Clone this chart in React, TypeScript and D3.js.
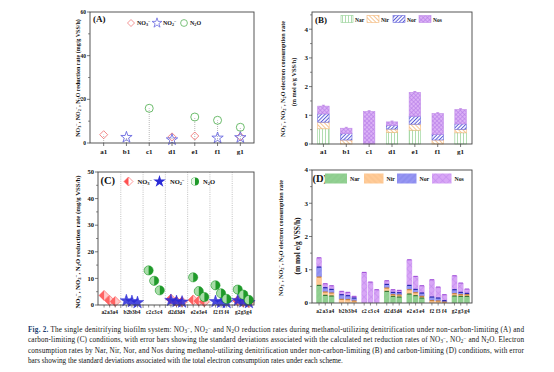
import React from 'react';
import * as d3 from 'd3';

// ---- data ----
const groups1 = ['a1', 'b1', 'c1', 'd1', 'e1', 'f1', 'g1'];
const no3A = [3.8, null, null, 2.8, 3.2, null, 2.9];
const no2A = [null, 2.6, null, 1.5, null, 2.3, 2.5];
const n2oA = [null, null, 15.9, null, 11.9, 10.4, 7.2];

const narB = [0.53, 0, 0, 0.40, 0.48, 0, 0.39];
const nirB = [0.23, 0.14, 0, 0.12, 0.21, 0.14, 0.12];
const norB = [0.29, 0.22, 0, 0.13, 0.28, 0.20, 0.19];
const nosB = [0.27, 0.19, 1.13, 0.12, 0.83, 0.72, 0.50];

const groups2 = ['a', 'b', 'c', 'd', 'e', 'f', 'g'];
const runs = ['2', '3', '4'];
const no3C = [3.6, 1.7, 1.3, null, null, null, null, null, null, 2.2, 1.3, 1.2, 1.9, 1.5, 1.2, null, null, null, 1.6, 1.1, 0.9];
const no2C = [null, null, null, 1.6, 1.3, 0.9, null, null, null, 1.7, 1.3, 1.1, null, null, null, 1.3, 1.0, 0.9, 1.7, 1.2, 0.9];
const n2oC = [null, null, null, null, null, null, 13.0, 9.1, 5.5, null, null, null, 10.4, 5.2, 3.0, 7.4, 4.4, 2.3, 5.8, 3.9, 1.9];

const narD = [0.53, 0.23, 0.21, 0, 0, 0, 0, 0, 0, 0.35, 0.20, 0.18, 0.27, 0.22, 0.15, 0, 0, 0, 0.21, 0.20, 0.20];
const nirD = [0.25, 0.10, 0.09, 0.11, 0.10, 0.06, 0, 0, 0, 0.10, 0.05, 0.06, 0.13, 0.09, 0.05, 0.07, 0.06, 0.03, 0.07, 0.05, 0.05];
const norD = [0.30, 0.13, 0.11, 0.14, 0.12, 0.09, 0, 0, 0, 0.11, 0.07, 0.07, 0.13, 0.10, 0.10, 0.11, 0.09, 0.04, 0.12, 0.07, 0.04];
const nosD = [0.28, 0.12, 0.11, 0.10, 0.10, 0.05, 0.92, 0.63, 0.40, 0.11, 0.08, 0.07, 0.77, 0.39, 0.22, 0.52, 0.33, 0.18, 0.42, 0.28, 0.13];

const enzymes = ['Nar', 'Nir', 'Nor', 'Nos'];
const FONT = 'Liberation Serif, Times New Roman, serif';

const slots = groups2.flatMap((g) => runs.map((r) => g + r));

// "_x" -> subscript char, "^x" -> superscript char
function chem(str: string, k = '') {
  const out: any[] = [];
  let buf = '';
  let i = 0;
  let n = 0;
  while (i < str.length) {
    const c = str[i];
    if ((c === '_' || c === '^') && i + 1 < str.length) {
      if (buf) out.push(<tspan key={k + n++}>{buf}</tspan>);
      buf = '';
      out.push(
        <tspan key={k + n++} fontSize="70%" baselineShift={c === '_' ? '-25%' : '45%'}>{str[i + 1]}</tspan>
      );
      i += 2;
    } else {
      buf += c;
      i++;
    }
  }
  if (buf) out.push(<tspan key={k + n++}>{buf}</tspan>);
  return out;
}

const diamond = (r: number) => `M0,${-r}L${r},0L0,${r}L${-r},0Z`;
const diamondLeft = (r: number) => `M0,${-r}L${-r},0L0,${r}Z`;
const star = (s: number) => d3.symbol().type(d3.symbolStar).size(s)() as string;
const leftHalf = (r: number) =>
  d3.arc()({ innerRadius: 0, outerRadius: r, startAngle: Math.PI, endAngle: 2 * Math.PI } as any) as string;

const AXC = '#444';

function YAxis({ y, x, ticks, minor, fs, fmt = (v: number) => String(v) }: any) {
  return (
    <g>
      {minor.map((v: number) => (
        <line key={'m' + v} x1={x - 2} x2={x} y1={y(v)} y2={y(v)} stroke={AXC} strokeWidth={0.6} />
      ))}
      {ticks.map((v: number) => (
        <g key={v}>
          <line x1={x - 3} x2={x} y1={y(v)} y2={y(v)} stroke={AXC} strokeWidth={0.7} />
          <text x={x - 4} y={y(v) + fs * 0.35} textAnchor="end" fontSize={fs} fontWeight="bold">{fmt(v)}</text>
        </g>
      ))}
    </g>
  );
}

function Frame({ x0, x1, y0, y1 }: any) {
  return <rect x={x0} y={y1} width={x1 - x0} height={y0 - y1} fill="none" stroke={AXC} strokeWidth={0.9} />;
}

export default function App() {
  // ---------- panel A ----------
  const xA = d3.scalePoint().domain(groups1).range([90, 254]).padding(0.6);
  const yA = d3.scaleLinear().domain([0, 60]).range([143, 12]);
  const redA = '#f07a7a', blueA = '#6a6ae0', greenA = '#5cb45c';

  // ---------- panel B ----------
  const xB = d3.scaleBand().domain(groups1).range([312, 472]).paddingInner(0.5).paddingOuter(0.25);
  const yB = d3.scaleLinear().domain([0, 4.6]).range([144, 12]);
  const rowsB = groups1.map((g, i) => ({ g, Nar: narB[i], Nir: nirB[i], Nor: norB[i], Nos: nosB[i] }));
  const stackB = d3.stack<any>().keys(enzymes)(rowsB);
  const fillB: Record<string, string> = { Nar: 'url(#pNarB)', Nir: 'url(#pNirB)', Nor: 'url(#pNorB)', Nos: 'url(#pNosB)' };
  const strokeB: Record<string, string> = { Nar: '#8fcf8f', Nir: '#f4b677', Nor: '#6c6cdc', Nos: '#c08ae8' };

  // ---------- panel C ----------
  const xCg = d3.scaleBand().domain(groups2).range([98.5, 254.5]);
  const xCi = d3.scalePoint().domain(runs).range([0, xCg.bandwidth()]).padding(1);
  const xC = (s: string) => (xCg(s[0]) as number) + (xCi(s[1]) as number);
  const yC = d3.scaleLinear().domain([0, 50]).range([305, 172]);
  const redC = '#ff5050', redCl = '#ffcaca', blueC = '#2a2ad6', greenC = '#1f9a2a', greenCl = '#a8dca8';

  // ---------- panel D ----------
  const xDg = d3.scaleBand().domain(groups2).range([314, 472]).paddingInner(0.2).paddingOuter(0.1);
  const xDi = d3.scaleBand().domain(runs).range([0, xDg.bandwidth()]).paddingInner(0.1);
  const xD = (s: string) => (xDg(s[0]) as number) + (xDi(s[1]) as number);
  const yD = d3.scaleLinear().domain([0, 4]).range([303, 170]);
  const rowsD = slots.map((s, i) => ({ s, Nar: narD[i], Nir: nirD[i], Nor: norD[i], Nos: nosD[i] }));
  const stackD = d3.stack<any>().keys(enzymes)(rowsD);
  const fillD: Record<string, string> = { Nar: 'url(#pNarD)', Nir: 'url(#pNirD)', Nor: 'url(#pNorD)', Nos: 'url(#pNosD)' };
  const capD: Record<string, string> = { Nar: '#2d6e2d', Nir: '#c77a2c', Nor: '#1c1ca8', Nos: '#a050d8' };

  const caption = [
    ' The single denitrifying biofilm system: NO_3^−, NO_2^− and N_2O reduction rates during methanol-utilizing denitrification under non-carbon-limiting (A) and',
    'carbon-limiting (C) conditions, with error bars showing the standard deviations associated with the calculated net reduction rates of NO_3^−, NO_2^− and N_2O. Electron',
    'consumption rates by Nar, Nir, Nor, and Nos during methanol-utilizing denitrification under non-carbon-limiting (B) and carbon-limiting (D) conditions, with error',
    'bars showing the standard deviations associated with the total electron consumption rates under each scheme.',
  ];

  return (
    <svg width={554} height={372} style={{ position: 'absolute', left: 0, top: 0, background: '#fff' }}
      fontFamily={FONT} fill="#111">
      <defs>
        <pattern id="pNarB" width={3} height={4} patternUnits="userSpaceOnUse">
          <rect width={3} height={4} fill="#fff" />
          <line x1={1.5} x2={1.5} y1={0} y2={4} stroke="#8fcf8f" strokeWidth={0.7} />
        </pattern>
        <pattern id="pNirB" width={3} height={3} patternUnits="userSpaceOnUse" patternTransform="rotate(-45)">
          <rect width={3} height={3} fill="#fff" />
          <line x1={1.5} x2={1.5} y1={0} y2={3} stroke="#f4b677" strokeWidth={0.8} />
        </pattern>
        <pattern id="pNorB" width={2.6} height={3} patternUnits="userSpaceOnUse" patternTransform="rotate(45)">
          <rect width={2.6} height={3} fill="#fff" />
          <line x1={1.3} x2={1.3} y1={0} y2={3} stroke="#5a5ad8" strokeWidth={1} />
        </pattern>
        <pattern id="pNosB" width={3} height={3} patternUnits="userSpaceOnUse" patternTransform="rotate(45)">
          <rect width={3} height={3} fill="#dcb2f6" />
          <line x1={1.5} x2={1.5} y1={0} y2={3} stroke="#b67ce8" strokeWidth={0.6} />
          <line x1={0} x2={3} y1={1.5} y2={1.5} stroke="#b67ce8" strokeWidth={0.6} />
        </pattern>
        <pattern id="pNarD" width={4} height={4} patternUnits="userSpaceOnUse" patternTransform="rotate(45)">
          <rect width={4} height={4} fill="#92d092" />
          <line x1={2} x2={2} y1={0} y2={4} stroke="#84c484" strokeWidth={0.5} />
        </pattern>
        <pattern id="pNirD" width={4} height={4} patternUnits="userSpaceOnUse" patternTransform="rotate(-45)">
          <rect width={4} height={4} fill="#ffcb98" />
          <line x1={2} x2={2} y1={0} y2={4} stroke="#f5b67a" strokeWidth={0.5} />
        </pattern>
        <pattern id="pNorD" width={4} height={4} patternUnits="userSpaceOnUse" patternTransform="rotate(45)">
          <rect width={4} height={4} fill="#9696f2" />
          <line x1={2} x2={2} y1={0} y2={4} stroke="#7c7ce6" strokeWidth={0.6} />
        </pattern>
        <pattern id="pNosD" width={5} height={5} patternUnits="userSpaceOnUse" patternTransform="rotate(45)">
          <rect width={5} height={5} fill="#d8a6f6" />
          <line x1={2.5} x2={2.5} y1={0} y2={5} stroke="#c088ec" strokeWidth={0.5} />
          <line x1={0} x2={5} y1={2.5} y2={2.5} stroke="#c088ec" strokeWidth={0.5} />
        </pattern>
      </defs>

      {/* ===== Panel A ===== */}
      <g>
        {groups1.map((g, i) => {
          const vals = [no3A[i], no2A[i], n2oA[i]].filter((v) => v != null) as number[];
          const m = d3.max(vals) as number;
          return <line key={g} x1={xA(g)} x2={xA(g)} y1={yA(0)} y2={yA(m)} stroke="#999" strokeWidth={0.7} strokeDasharray="1,1" />;
        })}
        {groups1.map((g, i) => (
          <g key={g} transform={`translate(${xA(g)},0)`}>
            {no3A[i] != null && <path transform={`translate(0,${yA(no3A[i] as number)})`} d={diamond(4)} fill="none" stroke={redA} strokeWidth={0.9} />}
            {no2A[i] != null && <path transform={`translate(0,${yA(no2A[i] as number)})`} d={star(40)} fill="none" stroke={blueA} strokeWidth={0.9} />}
            {n2oA[i] != null && <circle cy={yA(n2oA[i] as number)} r={4} fill="none" stroke={greenA} strokeWidth={0.9} />}
          </g>
        ))}
        <Frame x0={90} x1={254} y0={143} y1={12} />
        <YAxis y={yA} x={90} ticks={[0, 20, 40, 60]} minor={[10, 30, 50]} fs={5.5} />
        {groups1.map((g) => (
          <g key={g}>
            <line x1={xA(g)} x2={xA(g)} y1={143} y2={146} stroke={AXC} strokeWidth={0.7} />
            <text x={xA(g)} y={154} textAnchor="middle" fontSize={7} fontWeight="bold">{g}</text>
          </g>
        ))}
        <text x={93} y={22} fontSize={9} fontWeight="bold">(A)</text>
        <path transform="translate(131,23)" d={diamond(3.5)} fill="none" stroke={redA} strokeWidth={0.8} />
        <text x={137} y={25} fontSize={6} fontWeight="bold">{chem('NO_3^−')}</text>
        <path transform="translate(157,23)" d={star(30)} fill="none" stroke={blueA} strokeWidth={0.8} />
        <text x={163} y={25} fontSize={6} fontWeight="bold">{chem('NO_2^−')}</text>
        <circle cx={184} cy={23} r={3.4} fill="none" stroke={greenA} strokeWidth={0.8} />
        <text x={190} y={25} fontSize={6} fontWeight="bold">{chem('N_2O')}</text>
        <text transform="translate(79.5,78) rotate(-90)" textAnchor="middle" fontSize={6} fontWeight="bold">
          {chem('NO_3^−, NO_2^−, N_2O reduction rate (mg/g VSS/h)')}
        </text>
      </g>

      {/* ===== Panel B ===== */}
      <g>
        {stackB.map((layer) => (
          <g key={layer.key}>
            {layer.map((d, i) => d[1] - d[0] > 0 ? (
              <rect key={i} x={xB(groups1[i])} width={xB.bandwidth()} y={yB(d[1])} height={yB(d[0]) - yB(d[1])}
                fill={fillB[layer.key]} stroke={strokeB[layer.key]} strokeWidth={0.6} />
            ) : null)}
          </g>
        ))}
        {stackB[3].map((d, i) => {
          const cx = (xB(groups1[i]) as number) + xB.bandwidth() / 2;
          return (
            <g key={i} stroke="#b06ae0" strokeWidth={0.7}>
              <line x1={cx} x2={cx} y1={yB(d[1])} y2={yB(d[1] + 0.03)} />
              <line x1={cx - 1.5} x2={cx + 1.5} y1={yB(d[1] + 0.03)} y2={yB(d[1] + 0.03)} />
            </g>
          );
        })}
        <Frame x0={312} x1={472} y0={144} y1={12} />
        <YAxis y={yB} x={312} ticks={[0, 1, 2, 3, 4]} minor={[0.5, 1.5, 2.5, 3.5, 4.5]} fs={7} />
        {groups1.map((g) => {
          const cx = (xB(g) as number) + xB.bandwidth() / 2;
          return (
            <g key={g}>
              <line x1={cx} x2={cx} y1={144} y2={147} stroke={AXC} strokeWidth={0.7} />
              <text x={cx} y={154} textAnchor="middle" fontSize={7} fontWeight="bold">{g}</text>
            </g>
          );
        })}
        <text x={315} y={23} fontSize={9} fontWeight="bold">(B)</text>
        {enzymes.map((k, i) => (
          <g key={k} transform={`translate(${341 + i * 26},15.5)`}>
            <rect width={12} height={7} fill={fillB[k]} stroke={strokeB[k]} strokeWidth={0.6} />
            <text x={14} y={6} fontSize={5.5} fontWeight="bold">{k}</text>
          </g>
        ))}
        <text transform="translate(285,79) rotate(-90)" textAnchor="middle" fontSize={6.2} fontWeight="bold">
          {chem('NO_3^−, NO_2^−, N_2O electron consumption rate')}
        </text>
        <text transform="translate(295.5,82) rotate(-90)" textAnchor="middle" fontSize={6.3} fontWeight="bold">
          (m mol e/g VSS/h)
        </text>
      </g>

      {/* ===== Panel C ===== */}
      <g>
        {groups2.slice(1).map((g) => (
          <line key={g} x1={xCg(g)} x2={xCg(g)} y1={172} y2={305} stroke="#999" strokeWidth={0.6} strokeDasharray="1,1.2" />
        ))}
        {slots.map((s, i) => no3C[i] == null ? null : (
          <g key={'n3' + s} transform={`translate(${xC(s)},${yC(no3C[i] as number)})`}>
            <path d={diamond(5)} fill={redCl} stroke={redC} strokeWidth={0.6} />
            <path d={diamondLeft(5)} fill={redC} fillOpacity={0.85} />
          </g>
        ))}
        {slots.map((s, i) => no2C[i] == null ? null : (
          <path key={'n2' + s} transform={`translate(${xC(s)},${yC(no2C[i] as number)})`} d={star(48)}
            fill={blueC} stroke={blueC} strokeWidth={0.5} fillOpacity={0.85} />
        ))}
        {slots.map((s, i) => n2oC[i] == null ? null : (
          <g key={'no' + s} transform={`translate(${xC(s)},${yC(n2oC[i] as number)})`}>
            <circle r={4.6} fill={greenC} stroke={greenC} strokeWidth={0.5} />
            <path d={leftHalf(4.3)} fill={greenCl} />
          </g>
        ))}
        <Frame x0={98} x1={254} y0={305} y1={172} />
        <YAxis y={yC} x={98} ticks={[0, 10, 20, 30, 40, 50]} minor={[5, 15, 25, 35, 45]} fs={6.5} />
        {slots.map((s) => (
          <g key={s}>
            <line x1={xC(s)} x2={xC(s)} y1={305} y2={307.5} stroke={AXC} strokeWidth={0.6} />
            <text x={xC(s)} y={313.5} textAnchor="middle" fontSize={5.4} fontWeight="bold">{s}</text>
          </g>
        ))}
        {groups2.slice(1).map((g) => (
          <line key={g} x1={xCg(g)} x2={xCg(g)} y1={305} y2={308} stroke={AXC} strokeWidth={0.6} />
        ))}
        <text x={100.5} y={184} fontSize={10.5} fontWeight="bold">(C)</text>
        <g transform="translate(128.5,181.5)">
          <path d={diamond(4.5)} fill="#fff" stroke={redC} strokeWidth={0.6} />
          <path d={diamondLeft(4.5)} fill={redC} />
        </g>
        <text x={137.5} y={184} fontSize={6.5} fontWeight="bold">{chem('NO_3^−')}</text>
        <path transform="translate(159.5,181.5)" d={star(48)} fill={blueC} />
        <text x={170} y={184} fontSize={6.5} fontWeight="bold">{chem('NO_2^−')}</text>
        <g transform="translate(195,181.5)">
          <circle r={4} fill={greenC} />
          <path d={leftHalf(3.7)} fill="#e8f6e8" />
        </g>
        <text x={203} y={184} fontSize={6.5} fontWeight="bold">{chem('N_2O')}</text>
        <text transform="translate(79.5,242) rotate(-90)" textAnchor="middle" fontSize={6.8} fontWeight="bold">
          {chem('NO_3^−, NO_2^−, N_2O reduction rate (mg/g VSS/h)')}
        </text>
      </g>

      {/* ===== Panel D ===== */}
      <g>
        {stackD.map((layer) => (
          <g key={layer.key}>
            {layer.map((d, i) => d[1] - d[0] > 0 ? (
              <rect key={i} x={xD(slots[i])} width={xDi.bandwidth()} y={yD(d[1])} height={yD(d[0]) - yD(d[1])}
                fill={fillD[layer.key]} />
            ) : null)}
          </g>
        ))}
        {stackD.map((layer) => (
          <g key={'c' + layer.key} stroke={capD[layer.key]} strokeWidth={1.1}>
            {layer.map((d, i) => d[1] - d[0] > 0 ? (
              <line key={i} x1={xD(slots[i]) + 0.6} x2={xD(slots[i]) + xDi.bandwidth() - 0.6} y1={yD(d[1])} y2={yD(d[1])} />
            ) : null)}
          </g>
        ))}
        <Frame x0={312} x1={472} y0={303} y1={170} />
        <YAxis y={yD} x={312} ticks={[0, 1, 2, 3, 4]} minor={[0.5, 1.5, 2.5, 3.5]} fs={7} />
        {slots.map((s) => {
          const cx = xD(s) + xDi.bandwidth() / 2;
          return (
            <g key={s}>
              <line x1={cx} x2={cx} y1={303} y2={305.5} stroke={AXC} strokeWidth={0.6} />
              <text x={cx} y={312.5} textAnchor="middle" fontSize={5.4} fontWeight="bold">{s}</text>
            </g>
          );
        })}
        <text x={312.5} y={182} fontSize={10.5} fontWeight="bold">(D)</text>
        {enzymes.map((k, i) => (
          <g key={k} transform={`translate(${[325, 364, 397, 432][i]},173.5)`}>
            <rect width={[22, 19.5, 19.5, 19.5][i]} height={10} fill={fillD[k]} />
            <text x={[22, 19.5, 19.5, 19.5][i] + 3} y={7.5} fontSize={5.8} fontWeight="bold">{k}</text>
          </g>
        ))}
        <text transform="translate(282.5,238) rotate(-90)" textAnchor="middle" fontSize={6.2} fontWeight="bold">
          {chem('NO_3^−, NO_2^−, N_2O electron consumption rate')}
        </text>
        <text transform="translate(299.5,246) rotate(-90)" textAnchor="middle" fontSize={7.4} fontWeight="bold">
          (m mol e/g VSS/h)
        </text>
      </g>

      {/* ===== Caption ===== */}
      <g fontSize={7.2}>
        {caption.map((line, i) => (
          <text key={i} x={28} y={332 + i * 10.4}
            {...(i < 3 ? { textLength: 496, lengthAdjust: 'spacing' } : {})}>
            {i === 0 && <tspan fontWeight="bold" fill="#1a3d6e">Fig. 2.</tspan>}
            {chem(line, 'c' + i)}
          </text>
        ))}
      </g>
    </svg>
  );
}
